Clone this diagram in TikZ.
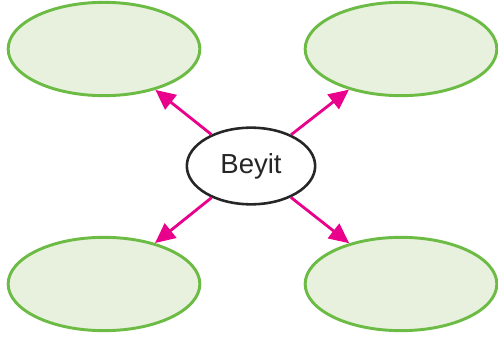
\documentclass[tikz,border=0pt]{standalone}
\usepackage{fontspec}
\setmainfont{Liberation Sans}
\usetikzlibrary{shapes.geometric,arrows.meta}
\definecolor{leafgreen}{RGB}{108,187,69}
\definecolor{leaffill}{RGB}{231,241,221}
\definecolor{arrowpink}{RGB}{233,0,139}
\tikzset{
	leaf/.style={draw=leafgreen,fill=leaffill,ellipse,line width=2.5pt,minimum width=5.75cm,minimum height=2.8cm},
	hub/.style={draw=black!85,fill=white,ellipse,line width=2.2pt,minimum width=3.85cm,minimum height=2.3cm,text=black!85,font=\fontsize{23.5}{28}\selectfont},
	pointer/.style={-{Triangle[length=0.6cm,width=0.55cm]},line width=2.4pt,color=arrowpink}
}
\begin{document}
\begin{tikzpicture}[x=0.03cm,y=-0.03cm]
			\useasboundingbox (0,0) rectangle (498,340);
			\node[hub] (beyit) at (251,166){Beyit};
			\node[leaf] (q1) at (104,49){};
			\node[leaf] (q2) at (401,49){};
			\node[leaf] (q3) at (104,284){};
			\node[leaf] (q4) at (401,284){};
			\draw (beyit) edge [pointer] (q1);
			\draw (beyit) edge [pointer] (q2);
			\draw (beyit) edge [pointer] (q3);
			\draw (beyit) edge [pointer] (q4);
		\end{tikzpicture}
\end{document}
